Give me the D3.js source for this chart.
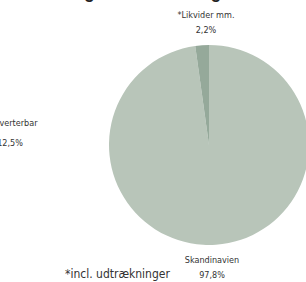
<!DOCTYPE html>
<html>
<head>
<meta charset="utf-8">
<script src="https://cdn.jsdelivr.net/npm/d3@7"></script>
<style>
  html, body { margin: 0; padding: 0; background: #fff; }
  svg { display: block; }
  text { font-family: "Liberation Sans Narrow", "DejaVu Sans Condensed", sans-serif; fill: #333; }
</style>
</head>
<body>
<div id="chart"></div>
<script>
// pie data
var categories = ["Skandinavien", "*Likvider mm."];
var values = [97.8, 2.2];
var valueLabels = ["97,8%", "2,2%"];
var sliceColors = ["#b8c5b9", "#95a99a"];

// neighbour chart label (cut off at left edge, as in the source)
var sideLabel = ["Konverterbar", "12,5%"];

var width = 306, height = 282;
var cx = 209, cy = 145, radius = 100;

var svg = d3.select("#chart").append("svg")
    .attr("width", width)
    .attr("height", height);

// title, mostly above the visible area
svg.append("text")
    .attr("x", 50).attr("y", -2)
    .style("font-family", "'Liberation Sans', Arial, sans-serif")
    .style("font-weight", "bold")
    .style("font-size", "17.5px")
    .style("fill", "#222")
    .text("Geografisk fordeling");

var pie = d3.pie().sort(null).value(function(d){ return d; });
var arc = d3.arc().innerRadius(0).outerRadius(radius);

var g = svg.append("g").attr("transform", "translate(" + cx + "," + cy + ")");
g.selectAll("path")
    .data(pie(values)).enter()
    .append("path")
    .attr("d", arc)
    .attr("fill", function(d, i){ return sliceColors[i]; });

// slice labels
var labelPos = [{x: 212, y: 263}, {x: 206, y: 18}];
categories.forEach(function(c, i){
    svg.append("text")
        .attr("x", labelPos[i].x).attr("y", labelPos[i].y)
        .attr("text-anchor", "middle")
        .style("font-size", "9px")
        .text(c);
    svg.append("text")
        .attr("x", labelPos[i].x).attr("y", labelPos[i].y + 15)
        .attr("text-anchor", "middle")
        .style("font-size", "9px")
        .text(valueLabels[i]);
});

svg.append("text")
    .attr("x", 11).attr("y", 126)
    .attr("text-anchor", "middle")
    .style("font-size", "9px")
    .text(sideLabel[0]);
svg.append("text")
    .attr("x", 10).attr("y", 146)
    .attr("text-anchor", "middle")
    .style("font-size", "9px")
    .text(sideLabel[1]);

svg.append("text")
    .attr("x", 65).attr("y", 278)
    .style("font-size", "12px")
    .text("*incl. udtrækninger");
</script>
</body>
</html>
